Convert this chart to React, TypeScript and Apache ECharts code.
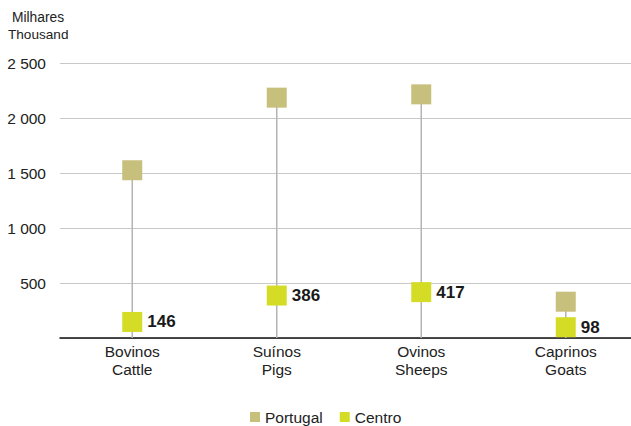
import React, { useEffect, useRef } from "react";
import * as echarts from "echarts";

const categories = ["Bovinos\nCattle", "Suínos\nPigs", "Ovinos\nSheeps", "Caprinos\nGoats"];
const portugal = [1525, 2185, 2215, 330];
const centro = [146, 386, 417, 98];
const yTicks = [0, 500, 1000, 1500, 2000, 2500];

const FONT = "'Liberation Sans', Arial, sans-serif";

export default function App() {
  const ref = useRef<HTMLDivElement>(null);
  useEffect(() => {
    const chart = echarts.init(ref.current!, null, { renderer: "svg" });
    chart.setOption({
      animation: false,
      textStyle: { fontFamily: FONT },
      grid: {
        left: 60,
        width: 578,
        top: 63,
        bottom: 88,
        containLabel: false,
        outerBoundsMode: "none",
      },
      graphic: [
        {
          type: "text",
          left: 12,
          top: 10,
          style: { text: "Milhares", fontSize: 13.8, fill: "#222", fontFamily: FONT },
        },
        {
          type: "text",
          left: 8,
          top: 27,
          style: { text: "Thousand", fontSize: 13.6, fill: "#222", fontFamily: FONT },
        },
      ],
      legend: {
        data: ["Portugal", "Centro"],
        top: 409,
        left: 250,
        padding: 0,
        itemWidth: 10,
        itemHeight: 10,
        itemGap: 17,
        icon: "rect",
        textStyle: { fontSize: 15.5, lineHeight: 16, color: "#222", fontFamily: FONT },
      },
      xAxis: {
        type: "category",
        data: categories,
        axisLine: { lineStyle: { color: "#111", width: 1.5 } },
        axisTick: { show: false },
        axisLabel: { fontSize: 15.5, color: "#222", lineHeight: 18, margin: 4, fontFamily: FONT },
      },
      yAxis: {
        type: "value",
        min: yTicks[0],
        max: yTicks[yTicks.length - 1],
        interval: 500,
        axisLine: { show: false },
        axisTick: { show: false },
        splitLine: { lineStyle: { color: "#c8c8c8", width: 1.2 } },
        axisLabel: {
          fontSize: 15.5,
          color: "#222",
          margin: 14,
          fontFamily: FONT,
          formatter: (v: number) => (v === 0 ? "" : v.toLocaleString("en-US").replace(/,/g, " ")),
        },
      },
      series: [
        {
          name: "line",
          type: "bar",
          data: portugal,
          barWidth: 1.5,
          itemStyle: { color: "#b4b4b4" },
          z: 1,
          silent: true,
        },
        {
          name: "Portugal",
          type: "scatter",
          data: portugal,
          symbol: "rect",
          symbolSize: 20,
          itemStyle: { color: "#c7bf7c", opacity: 1 },
          z: 3,
        },
        {
          name: "Centro",
          type: "scatter",
          data: centro,
          symbol: "rect",
          symbolSize: 20,
          itemStyle: { color: "#d5dc26", opacity: 1 },
          z: 3,
          label: {
            show: true,
            position: "right",
            distance: 5,
            fontSize: 17,
            fontWeight: "bold",
            color: "#1a1a1a",
            opacity: 1,
            fontFamily: FONT,
          },
        },
      ],
    });
    return () => chart.dispose();
  }, []);
  return (
    <div
      ref={ref}
      style={{ position: "fixed", left: 0, top: 0, width: 631, height: 426, background: "#fff" }}
    />
  );
}
